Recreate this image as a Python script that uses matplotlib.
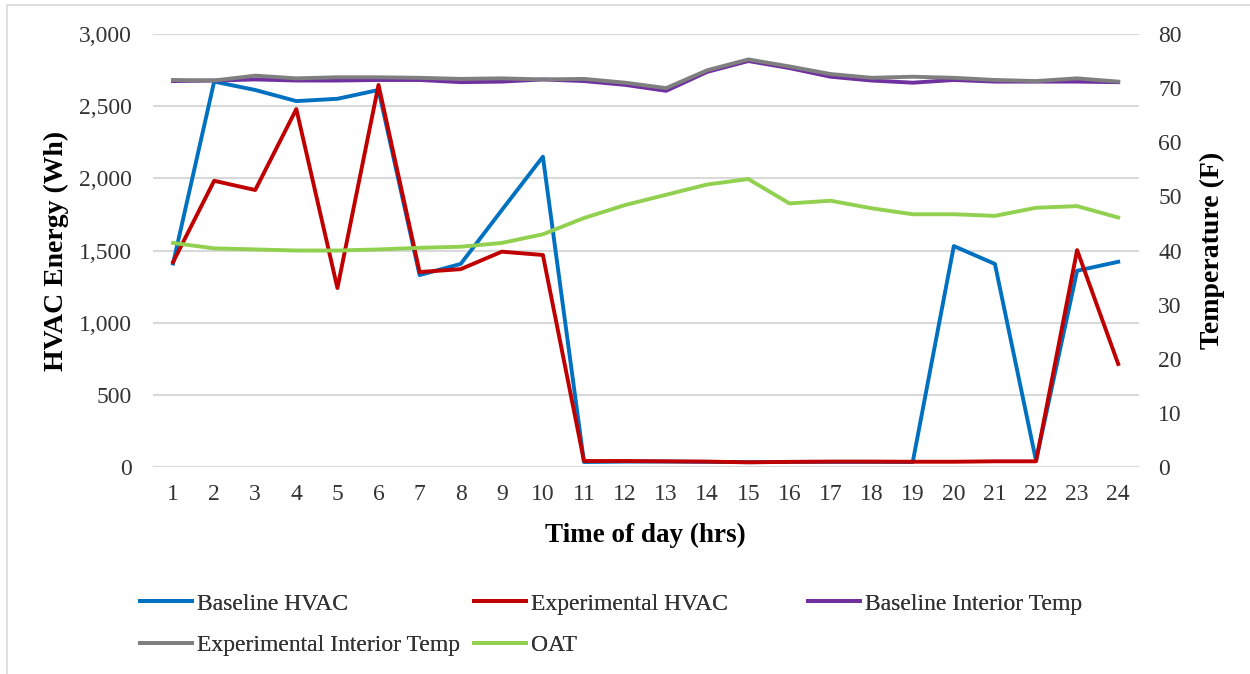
import matplotlib
matplotlib.use("Agg")
import matplotlib.pyplot as plt
import matplotlib.patches as patches
from matplotlib.ticker import FuncFormatter

# 시간 (hrs)
hours = list(range(1, 25))

# HVAC 에너지 (Wh) - 왼쪽 축
baseline_hvac = [1410, 2670, 2612, 2535, 2551, 2612, 1330, 1407, 1780, 2150,
                 35, 38, 38, 36, 34, 36, 36, 36, 35, 1531, 1407, 45, 1360, 1422]
experimental_hvac = [1420, 1983, 1919, 2480, 1240, 2647, 1351, 1371, 1492, 1469,
                     42, 42, 40, 38, 33, 36, 38, 38, 37, 37, 40, 40, 1503, 714]

# 온도 (F) - 오른쪽 축
baseline_temp = [71.3, 71.4, 71.6, 71.4, 71.4, 71.5, 71.5, 71.1, 71.2, 71.6, 71.3, 70.6,
                 69.5, 73.0, 75.0, 73.7, 72.1, 71.4, 71.0, 71.5, 71.2, 71.2, 71.2, 71.1]
experimental_temp = [71.5, 71.4, 72.3, 71.8, 72.0, 72.0, 71.9, 71.7, 71.8, 71.6, 71.7, 71.0,
                     70.0, 73.3, 75.3, 74.0, 72.6, 71.9, 72.1, 71.9, 71.5, 71.3, 71.8, 71.2]
oat = [41.4, 40.4, 40.2, 40.0, 40.0, 40.2, 40.5, 40.7, 41.4, 43.0, 46.0, 48.4,
       50.3, 52.2, 53.2, 48.7, 49.2, 47.8, 46.7, 46.7, 46.4, 47.9, 48.2, 46.1]

left_ticks = [0, 500, 1000, 1500, 2000, 2500, 3000]
right_ticks = [0, 10, 20, 30, 40, 50, 60, 70, 80]

FONT = "Liberation Serif"
plt.rcParams['font.family'] = [FONT, 'DejaVu Serif']
TICK_SIZE = 17
LABEL_SIZE = 20

fig = plt.figure(figsize=(12.5, 6.74), dpi=100)
ax = fig.add_axes([0.122, 0.307, 0.789, 0.6426])
ax2 = ax.twinx()

# 바깥 테두리 (왼쪽/위쪽만 보임)
border = patches.Rectangle((7 / 1250, -0.05), 1.1, 1 - 5 / 674 + 0.05,
                           transform=fig.transFigure, fill=False,
                           edgecolor='#d9d9d9', linewidth=1.2, zorder=0)
fig.patches.append(border)

# 1. 왼쪽 축 - HVAC 에너지
l1, = ax.plot(hours, baseline_hvac, color='#0070C0', linewidth=2.8, label='Baseline HVAC', zorder=3)
l2, = ax.plot(hours, experimental_hvac, color='#C00000', linewidth=2.8, label='Experimental HVAC', zorder=4)

# 2. 오른쪽 축 - 온도
l3, = ax2.plot(hours, baseline_temp, color='#7030A0', linewidth=2.8, label='Baseline Interior Temp', zorder=3)
l4, = ax2.plot(hours, experimental_temp, color='#7F7F7F', linewidth=2.8, label='Experimental Interior Temp', zorder=4)
l5, = ax2.plot(hours, oat, color='#92D050', linewidth=2.8, label='OAT', zorder=5)

# 3. 축 스타일
ax.set_xlim(0.5, 24.5)
ax.set_ylim(0, 3000)
ax2.set_ylim(0, 80)
ax.set_xticks(hours)
ax.set_yticks(left_ticks)
ax2.set_yticks(right_ticks)
ax.yaxis.set_major_formatter(FuncFormatter(lambda v, p: f"{int(v):,}"))

for a in (ax, ax2):
    for s in a.spines.values():
        s.set_visible(False)
ax.grid(True, axis='y', color='#d9d9d9', linewidth=1.5)
ax.set_axisbelow(True)

ax.tick_params(axis='y', length=0, pad=15, labelsize=TICK_SIZE, labelcolor='#333333')
ax.tick_params(axis='x', length=0, pad=12, labelsize=TICK_SIZE, labelcolor='#333333')
ax2.tick_params(axis='y', length=0, pad=14, labelsize=TICK_SIZE, labelcolor='#333333')

ax.set_xlabel("Time of day (hrs)", fontsize=19.5, fontweight='bold', labelpad=13)
ax.set_ylabel("HVAC Energy (Wh)", fontsize=LABEL_SIZE, fontweight='bold', labelpad=7)
ax2.set_ylabel("Temperature (F)", fontsize=LABEL_SIZE, fontweight='bold', labelpad=13)

# 4. 범례 - 세 개의 열
columns = [([l1, l4], 140), ([l2, l5], 474), ([l3], 808)]
for handles, xpix in columns:
    leg = fig.legend(handles=handles, loc='upper left',
                     bbox_to_anchor=(xpix / 1250, 1 - 593 / 674),
                     frameon=False, fontsize=TICK_SIZE, handlelength=2.2,
                     handletextpad=0.2, labelspacing=0.85,
                     borderpad=0, borderaxespad=0)
    for t in leg.get_texts():
        t.set_color('#333333')
    fig.add_artist(leg)

fig.savefig("out.png", dpi=100)
